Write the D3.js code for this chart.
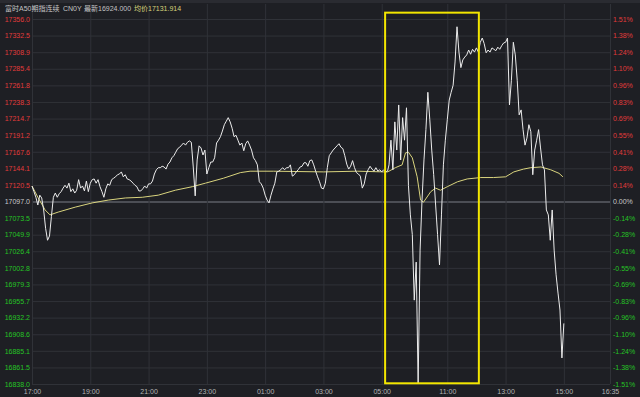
<!DOCTYPE html>
<html>
<head>
<meta charset="utf-8">
<script src="https://cdn.jsdelivr.net/npm/d3@7"></script>
<style>
  body { margin: 0; background: #1e1f24; }
  svg { display: block; }
</style>
</head>
<body>
<svg id="chart" width="640" height="397"></svg>
<script>
// Reference price (previous settlement) and header values
const prevClose = 17097.0;
const lastPrice = 16924.000;
const avgPrice = 17131.914;

// Night session 17:00 -> 05:12, one value every 4 minutes
const nightPrices = [
  17119, 17111, 17103, 17092, 17106, 17102, 17085, 17059, 17042, 17048,
  17076, 17103, 17109, 17103, 17108, 17111, 17116, 17120, 17116, 17123,
  17111, 17115, 17109, 17113, 17128, 17116, 17119, 17112, 17126, 17111,
  17123, 17128, 17129, 17123, 17128, 17118, 17111, 17103, 17115, 17122,
  17120, 17128, 17130, 17132, 17135, 17136, 17139, 17132, 17135, 17129,
  17128, 17126, 17123, 17120, 17118, 17112, 17112, 17115, 17119, 17116,
  17122, 17122, 17126, 17136, 17142, 17145, 17145, 17147, 17146, 17143,
  17150, 17153, 17159, 17162, 17167, 17172, 17174, 17177, 17180, 17177,
  17181, 17183, 17181, 17146, 17105, 17156, 17176, 17173, 17163, 17170,
  17136, 17145, 17153, 17153, 17159, 17180, 17184, 17189, 17197, 17206,
  17211, 17216, 17210, 17201, 17189, 17191, 17184, 17177, 17180, 17169,
  17179, 17183, 17177, 17170, 17159, 17155, 17149, 17125, 17122, 17116,
  17106, 17099, 17095, 17106, 17115, 17123, 17139, 17140, 17142, 17145,
  17142, 17145, 17145, 17149, 17133, 17135, 17139, 17142, 17146, 17147,
  17152, 17152, 17147, 17155, 17156, 17149, 17140, 17132, 17125, 17116,
  17115, 17123, 17145, 17162, 17166, 17170, 17173, 17176, 17179, 17174,
  17172, 17162, 17150, 17143, 17147, 17155, 17145, 17138, 17136, 17133,
  17116, 17122, 17136, 17142, 17147, 17143, 17140, 17145, 17140, 17142,
  17139, 17142, 17139, 17140
];

// Day session 09:00 -> 15:00, one value every 4 minutes
const dayPrices = [
  17149, 17184, 17142, 17210, 17170, 17234, 17156, 17216, 17184, 17230,
  17120, 17078, 17050, 16957, 17011, 16838, 17028, 17099, 17156, 17199,
  17252, 17213, 17170, 17135, 17092, 17050, 17007, 17078, 17149, 17184,
  17213, 17241, 17252, 17262, 17295, 17345, 17309, 17287, 17298, 17302,
  17305, 17312, 17306, 17313, 17309, 17315, 17309, 17323, 17329, 17321,
  17308, 17312, 17309, 17315, 17313, 17311, 17316, 17313, 17318, 17322,
  17323, 17329, 17234, 17269, 17323, 17305, 17269, 17220, 17227, 17199,
  17177, 17187, 17206, 17196, 17135, 17170, 17184, 17199, 17173, 17149,
  17142, 17085, 17078, 17042, 17085, 17028, 16993, 16967, 16943, 16875,
  16924
];

// Average price line
const avgTimes = [
  '17:00', '17:12', '17:27', '17:37', '17:54', '18:29', '19:04', '19:37',
  '20:12', '20:47', '21:20', '21:55', '22:30', '22:57', '23:34', '00:09',
  '00:29', '01:17', '03:00', '04:10', '05:04', '05:12',
  '09:00', '09:13', '09:27', '09:34', '09:40', '09:48', '09:58', '10:05',
  '10:11', '10:26', '10:36', '10:46', '11:00', '11:21', '11:41', '12:09',
  '12:35', '13:00', '13:17', '13:37', '13:52', '14:13', '14:33', '14:50',
  '14:58'
];
const avgValues = [
  17119, 17103, 17085, 17078, 17082, 17089, 17095, 17099,
  17102, 17103, 17106, 17113, 17118, 17123, 17130, 17138,
  17140, 17140, 17139, 17140, 17139, 17139,
  17140, 17145, 17149, 17166, 17167, 17159, 17132, 17099,
  17096, 17111, 17116, 17113, 17118, 17125, 17129, 17131,
  17131, 17132, 17139, 17143, 17145, 17146, 17142, 17137,
  17132
];

// Tick labels
const timeTicks = ['17:00', '19:00', '21:00', '23:00', '01:00', '03:00',
  '05:00', '11:00', '13:00', '15:00', '16:35'];
const priceTicks = [17356.0, 17332.5, 17308.9, 17285.4, 17261.8, 17238.3,
  17214.7, 17191.2, 17167.6, 17144.1, 17120.5, 17097.0, 17073.5, 17049.9,
  17026.4, 17002.8, 16979.3, 16955.7, 16932.2, 16908.6, 16885.1, 16861.5,
  16838.0];
const pctTicks = ['1.51%', '1.38%', '1.24%', '1.10%', '0.96%', '0.83%',
  '0.69%', '0.55%', '0.41%', '0.28%', '0.14%', '0.00%', '-0.14%', '-0.28%',
  '-0.41%', '-0.55%', '-0.69%', '-0.83%', '-0.96%', '-1.10%', '-1.24%',
  '-1.38%', '-1.51%'];

// Highlighted window (yellow box)
const boxTimes = ['05:07', '12:05'];
const boxPrices = [16839, 17365];

// Colors
const bgColor = '#1e1f24';
const gridColor = '#303238';
const upColor = '#e23b3b';
const downColor = '#25c425';
const flatColor = '#c9c9c9';
const lineColor = '#ececec';
const avgColor = '#d9d47e';
const boxColor = '#f3e600';

// Session minutes: night 17:00-05:15, day 09:00-16:35
const toSessionMin = t => {
  const [h, m] = t.split(':').map(Number);
  const mins = h * 60 + m;
  if (mins >= 17 * 60) return mins - 17 * 60;
  if (mins <= 5 * 60 + 15) return mins + 7 * 60;
  return 735 + mins - 9 * 60;
};

const margin = {left: 32, right: 30, top: 19, bottom: 13};
const width = 640, height = 397;

const svg = d3.select('#chart');

svg.append('rect')
  .attr('width', width)
  .attr('height', height)
  .style('fill', bgColor);

// top tab strip
svg.append('rect')
  .attr('width', width)
  .attr('height', 3)
  .style('fill', '#2a2b31');

let x = d3.scaleLinear()
  .domain([0, toSessionMin('16:35')])
  .range([margin.left, width - margin.right]);

let y = d3.scaleLinear()
  .domain([d3.min(priceTicks), d3.max(priceTicks)])
  .range([height - margin.bottom, margin.top]);

// Grid lines
let hGrid = svg.append('g')
  .attr('transform', `translate(${margin.left}, 0)`)
  .call(d3.axisLeft(y).tickValues(priceTicks).tickSize(-(x.range()[1] - margin.left)).tickFormat(''));
hGrid.select('.domain').remove();
hGrid.selectAll('line')
  .style('stroke', d => d === prevClose ? '#4c4e55' : gridColor)
  .style('stroke-width', d => d === prevClose ? 2 : 1);

let vGrid = svg.append('g')
  .attr('transform', `translate(0, ${height - margin.bottom})`)
  .call(d3.axisBottom(x).tickValues(timeTicks.map(toSessionMin))
    .tickSize(-(height - margin.bottom - 4)).tickFormat(''));
vGrid.select('.domain').remove();
vGrid.selectAll('line').style('stroke', gridColor);

// Axis labels
const labelColor = (d) => d > prevClose ? upColor : (d < prevClose ? downColor : flatColor);

let leftAxis = svg.append('g')
  .attr('transform', `translate(${margin.left - 2}, 0)`)
  .call(d3.axisLeft(y).tickValues(priceTicks).tickSize(0).tickFormat(d3.format('.1f')));
leftAxis.select('.domain').remove();
leftAxis.selectAll('text')
  .attr('x', 0)
  .style('font-family', '"Liberation Sans", Arial, sans-serif')
  .style('font-size', '7px')
  .style('fill', labelColor);

let rightAxis = svg.append('g')
  .attr('transform', `translate(${width - margin.right + 3}, 0)`)
  .call(d3.axisRight(y).tickValues(priceTicks).tickSize(0).tickFormat((d, i) => pctTicks[i]));
rightAxis.select('.domain').remove();
rightAxis.selectAll('text')
  .attr('x', 0)
  .style('font-family', '"Liberation Sans", Arial, sans-serif')
  .style('font-size', '7px')
  .style('fill', labelColor);

let bottomAxis = svg.append('g')
  .attr('transform', `translate(0, ${height - margin.bottom})`)
  .call(d3.axisBottom(x).tickValues(timeTicks.map(toSessionMin)).tickSize(0)
    .tickFormat((d, i) => timeTicks[i]));
bottomAxis.select('.domain').remove();
bottomAxis.selectAll('text')
  .attr('y', 5)
  .style('font-family', '"Liberation Sans", Arial, sans-serif')
  .style('font-size', '7px')
  .style('fill', '#b4b4b4');

// Series
const nightData = nightPrices.map((p, i) => ({t: i * 4, p: p}));
const dayData = dayPrices.map((p, i) => ({t: toSessionMin('09:00') + i * 4, p: p}));
const priceData = nightData.concat(dayData);
const avgData = avgTimes.map((t, i) => ({t: toSessionMin(t), p: avgValues[i]}));

let line = d3.line()
  .x(d => x(d.t))
  .y(d => y(d.p));

svg.append('path')
  .datum(avgData)
  .attr('d', line)
  .style('fill', 'none')
  .style('stroke', avgColor)
  .style('stroke-width', 1);

svg.append('path')
  .datum(priceData)
  .attr('d', line)
  .style('fill', 'none')
  .style('stroke', lineColor)
  .style('stroke-width', 1)
  .style('stroke-linejoin', 'round');

// Highlight box
let bx0 = x(toSessionMin(boxTimes[0])), bx1 = x(toSessionMin(boxTimes[1]));
let by0 = y(boxPrices[1]), by1 = y(boxPrices[0]);
svg.append('rect')
  .attr('x', bx0)
  .attr('y', by0)
  .attr('width', bx1 - bx0)
  .attr('height', by1 - by0)
  .style('fill', 'none')
  .style('stroke', boxColor)
  .style('stroke-width', 2);

// Header
let header = svg.append('g')
  .style('font-family', '"Liberation Sans", "Noto Sans CJK SC", sans-serif')
  .style('font-size', '7px');

header.append('text').attr('x', 5).attr('y', 11)
  .style('fill', '#c4c4c4').text('富时A50期指连续');
header.append('text').attr('x', 63).attr('y', 11)
  .style('fill', '#c4c4c4').text('CN0Y');
header.append('text').attr('x', 84).attr('y', 11)
  .style('fill', '#c4c4c4').text(`最新${lastPrice.toFixed(3)}`);
header.append('text').attr('x', 134).attr('y', 11)
  .style('fill', '#d6d27a').text(`均价${avgPrice.toFixed(3)}`);
</script>
</body>
</html>
